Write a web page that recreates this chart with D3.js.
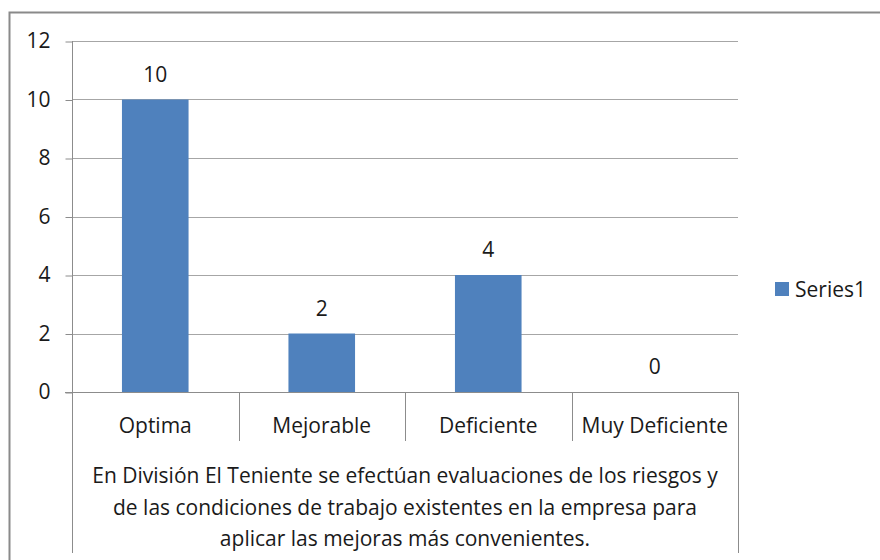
<!DOCTYPE html>
<html>
<head>
<meta charset="utf-8">
<script src="https://cdn.jsdelivr.net/npm/d3@7"></script>
<style>
  html, body { margin: 0; padding: 0; background: #fff; }
  svg { display: block; font-family: "Open Sans", Lato, sans-serif; }
</style>
</head>
<body>
<svg id="chart" width="880" height="560"></svg>
<script>
// Chart data
const categories = ["Optima", "Mejorable", "Deficiente", "Muy Deficiente"];
const values = [10, 2, 4, 0];
const yTicks = [0, 2, 4, 6, 8, 10, 12];
const seriesName = "Series1";
const axisTitleLines = [
  "En División El Teniente se efectúan evaluaciones de los riesgos y",
  "de las condiciones de trabajo existentes en la empresa para",
  "aplicar las mejoras más convenientes."
];

const svg = d3.select("#chart");
const barColor = "#4f81bd";
const gridColor = "#a6a6a6";
const axisColor = "#8c8c8c";
const textColor = "#1a1a1a";
const fontSize = 21;
const fontFamily = "'Open Sans', Lato, sans-serif";

// Chart area frame
svg.append("rect")
  .attr("x", 9.5).attr("y", 12.5)
  .attr("width", 900).attr("height", 600)
  .attr("fill", "#fff")
  .attr("stroke", "#8a8a8a").attr("stroke-width", 2);

const plot = { left: 72, right: 738, top: 41, bottom: 392 };

const x = d3.scaleBand()
  .domain(categories)
  .range([plot.left, plot.right])
  .paddingInner(0.6)
  .paddingOuter(0.3);

const y = d3.scaleLinear()
  .domain([0, 12])
  .range([plot.bottom, plot.top]);

// Horizontal gridlines
svg.append("g")
  .selectAll("line")
  .data(yTicks.filter(t => t > 0))
  .join("line")
  .attr("x1", plot.left).attr("x2", plot.right)
  .attr("y1", d => Math.round(y(d)) + 0.5)
  .attr("y2", d => Math.round(y(d)) + 0.5)
  .attr("stroke", gridColor).attr("stroke-width", 1);

// Value axis
const yAxis = svg.append("g")
  .attr("transform", `translate(${plot.left + 0.5},0)`)
  .call(d3.axisLeft(y).tickValues(yTicks).tickSize(7).tickPadding(15).tickFormat(d3.format("d")));
yAxis.select(".domain").attr("stroke", axisColor).attr("d", `M0,${plot.top}V${plot.bottom}`);
yAxis.selectAll(".tick line").attr("stroke", axisColor).attr("transform", "translate(0,0.5)");
yAxis.selectAll(".tick text")
  .attr("fill", textColor)
  .style("font-size", fontSize + "px")
  .style("font-family", fontFamily);

// Bars
svg.append("g")
  .selectAll("rect")
  .data(categories.map((c, i) => ({ c, v: values[i] })))
  .join("rect")
  .attr("x", d => x(d.c))
  .attr("width", x.bandwidth())
  .attr("y", d => y(d.v))
  .attr("height", d => y(0) - y(d.v))
  .attr("fill", barColor);

// Value labels
svg.append("g")
  .selectAll("text")
  .data(categories.map((c, i) => ({ c, v: values[i] })))
  .join("text")
  .attr("x", d => x(d.c) + x.bandwidth() / 2)
  .attr("y", d => y(d.v) - 18)
  .attr("text-anchor", "middle")
  .attr("fill", textColor)
  .style("font-size", fontSize + "px")
  .text(d => d.v);

// Category axis with divider lines
const step = x.step();
const edges = d3.range(categories.length + 1).map(i => plot.left + i * step);
const catAxis = svg.append("g");
catAxis.append("line")
  .attr("x1", plot.left - 7).attr("x2", plot.right)
  .attr("y1", plot.bottom + 0.5).attr("y2", plot.bottom + 0.5)
  .attr("stroke", axisColor);
catAxis.selectAll("line.div")
  .data(edges)
  .join("line")
  .attr("class", "div")
  .attr("x1", d => Math.round(d) + 0.5).attr("x2", d => Math.round(d) + 0.5)
  .attr("y1", plot.bottom)
  .attr("y2", (d, i) => (i === 0 || i === edges.length - 1) ? 553 : 441)
  .attr("stroke", axisColor);
catAxis.selectAll("text")
  .data(categories)
  .join("text")
  .attr("x", d => x(d) + x.bandwidth() / 2)
  .attr("y", 433)
  .attr("text-anchor", "middle")
  .attr("fill", textColor)
  .style("font-size", fontSize + "px")
  .text(d => d);

// Axis title (multi-line)
svg.append("g")
  .selectAll("text")
  .data(axisTitleLines)
  .join("text")
  .attr("x", (plot.left + plot.right) / 2)
  .attr("y", (d, i) => 483 + i * 31.5)
  .attr("text-anchor", "middle")
  .attr("fill", textColor)
  .style("font-size", fontSize + "px")
  .text(d => d);

// Legend
const legend = svg.append("g").attr("transform", "translate(775,282)");
legend.append("rect").attr("width", 14).attr("height", 14).attr("fill", barColor);
legend.append("text")
  .attr("x", 20).attr("y", 15)
  .attr("fill", textColor)
  .style("font-size", fontSize + "px")
  .text(seriesName);
</script>
</body>
</html>
